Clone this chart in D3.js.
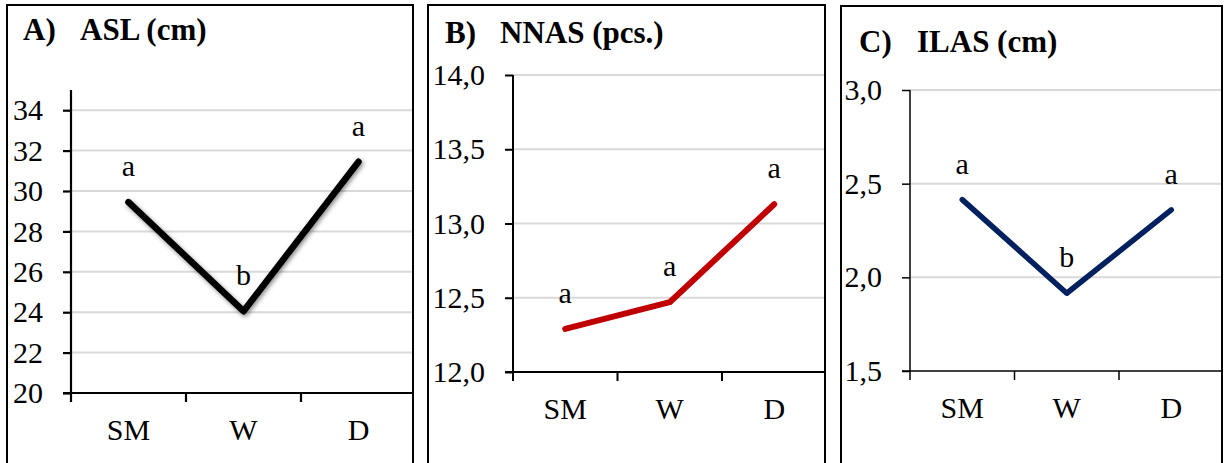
<!DOCTYPE html>
<html><head><meta charset="utf-8">
<script src="https://cdn.jsdelivr.net/npm/d3@7"></script>
<style>
html,body{margin:0;padding:0;background:#fff;}
svg{display:block;}
svg text{font-family:"Liberation Serif","Times New Roman",serif !important;}
</style></head>
<body>
<svg id="chart" width="1224" height="463" font-family="Liberation Serif, serif"></svg>
<script>
const categories = ["SM", "W", "D"];

const aslValues = [29.45, 24.05, 31.45];
const aslLetters = ["a", "b", "a"];
const aslTicks = [20, 22, 24, 26, 28, 30, 32, 34];

const nnasValues = [12.29, 12.47, 13.13];
const nnasLetters = ["a", "a", "a"];
const nnasTicks = [12.0, 12.5, 13.0, 13.5, 14.0];

const ilasValues = [2.415, 1.915, 2.36];
const ilasLetters = ["a", "b", "a"];
const ilasTicks = [1.5, 2.0, 2.5, 3.0];

const svg = d3.select("#chart");
const defs = svg.append("defs");
const f = defs.append("filter").attr("id","shadow").attr("x","-20%").attr("y","-20%").attr("width","140%").attr("height","140%");
f.append("feDropShadow").attr("dx",1.5).attr("dy",2).attr("stdDeviation",2).attr("flood-color","#000").attr("flood-opacity",0.45);

const commaFmt = d => d3.format(".1f")(d).replace(".", ",");

const panels = [
  {frame:[7,5,406], letter:"A)", name:"ASL (cm)", letterX:23, nameX:80, titleY:40,
   ax:71, top:90, bottom:393, right:413, band:115, domain:[20,35], ticks:aslTicks, fmt:d=>String(d),
   values:aslValues, letters:aslLetters, color:"#000", width:6.5, axisW:2.2, shadow:true},
  {frame:[428,5,397], letter:"B)", name:"NNAS (pcs.)", letterX:445, nameX:500, titleY:43,
   ax:513, top:75, bottom:372, right:825, band:104.5, domain:[12,14], ticks:nnasTicks, fmt:commaFmt,
   values:nnasValues, letters:nnasLetters, color:"#c00000", width:6, axisW:2, shadow:false},
  {frame:[841,6,381], letter:"C)", name:"ILAS (cm)", letterX:859, nameX:917, titleY:52,
   ax:910, top:90, bottom:371, right:1222, band:104.5, domain:[1.5,3.0], ticks:ilasTicks, fmt:commaFmt,
   values:ilasValues, letters:ilasLetters, color:"#002060", width:5.5, axisW:1.5, shadow:false}
];

panels.forEach(p => {
  const g = svg.append("g");
  g.append("rect").attr("x",p.frame[0]).attr("y",p.frame[1]).attr("width",p.frame[2]).attr("height",480)
    .attr("fill","none").attr("stroke","#000").attr("stroke-width",2);
  g.append("text").attr("x",p.letterX).attr("y",p.titleY).attr("font-weight","bold").attr("font-size",31).text(p.letter);
  g.append("text").attr("x",p.nameX).attr("y",p.titleY).attr("font-weight","bold").attr("font-size",31).text(p.name);

  const y = d3.scaleLinear().domain(p.domain).range([p.bottom, p.top]);
  const x = d3.scaleBand().domain(categories).range([p.ax, p.ax + 3*p.band]);

  g.append("g").selectAll("line").data(p.ticks.filter(t=>t!==p.domain[0])).join("line")
    .attr("x1",p.ax).attr("x2",p.right-1).attr("y1",d=>y(d)).attr("y2",d=>y(d))
    .attr("stroke","#d9d9d9").attr("stroke-width",2);

  const yAxis = d3.axisLeft(y).tickValues(p.ticks).tickFormat(p.fmt).tickSize(8).tickPadding(20).tickSizeOuter(0);
  const yg = g.append("g").attr("transform",`translate(${p.ax},0)`).call(yAxis)
    .attr("font-family","Liberation Serif, serif").attr("font-size",30);
  yg.select(".domain").remove();
  yg.append("line").attr("x1",0).attr("x2",0).attr("y1",p.top).attr("y2",p.bottom).attr("stroke","#000").attr("stroke-width",p.axisW);
  yg.selectAll(".tick line").attr("stroke","#000").attr("stroke-width",p.axisW);
  yg.selectAll(".tick text").attr("fill","#000");

  const xTickPos = [0,1,2].map(i => p.ax + i*p.band);
  const xg = g.append("g");
  xg.append("line").attr("x1",p.ax - 8).attr("x2",p.right).attr("y1",p.bottom).attr("y2",p.bottom)
    .attr("stroke","#000").attr("stroke-width",p.axisW);
  xg.selectAll("line.xt").data(xTickPos).join("line").attr("class","xt")
    .attr("x1",d=>d).attr("x2",d=>d).attr("y1",p.bottom).attr("y2",p.bottom+9)
    .attr("stroke","#000").attr("stroke-width",p.axisW);
  xg.selectAll("text").data(categories).join("text")
    .attr("x",d=>x(d)+x.bandwidth()/2).attr("y",p.bottom+47)
    .attr("text-anchor","middle").attr("font-size",30).text(d=>d);

  const pts = categories.map((c,i)=>({c, v:p.values[i], l:p.letters[i]}));
  const line = d3.line().x(d=>x(d.c)+x.bandwidth()/2).y(d=>y(d.v));
  g.append("path").datum(pts).attr("d",line).attr("fill","none")
    .attr("stroke",p.color).attr("stroke-width",p.width).attr("stroke-linecap","round").attr("stroke-linejoin","round")
    .attr("filter", p.shadow ? "url(#shadow)" : null);

  g.append("g").selectAll("text").data(pts).join("text")
    .attr("x",d=>x(d.c)+x.bandwidth()/2).attr("y",d=>y(d.v)-26)
    .attr("text-anchor","middle").attr("font-size",30).text(d=>d.l);
});
</script>
</body></html>
